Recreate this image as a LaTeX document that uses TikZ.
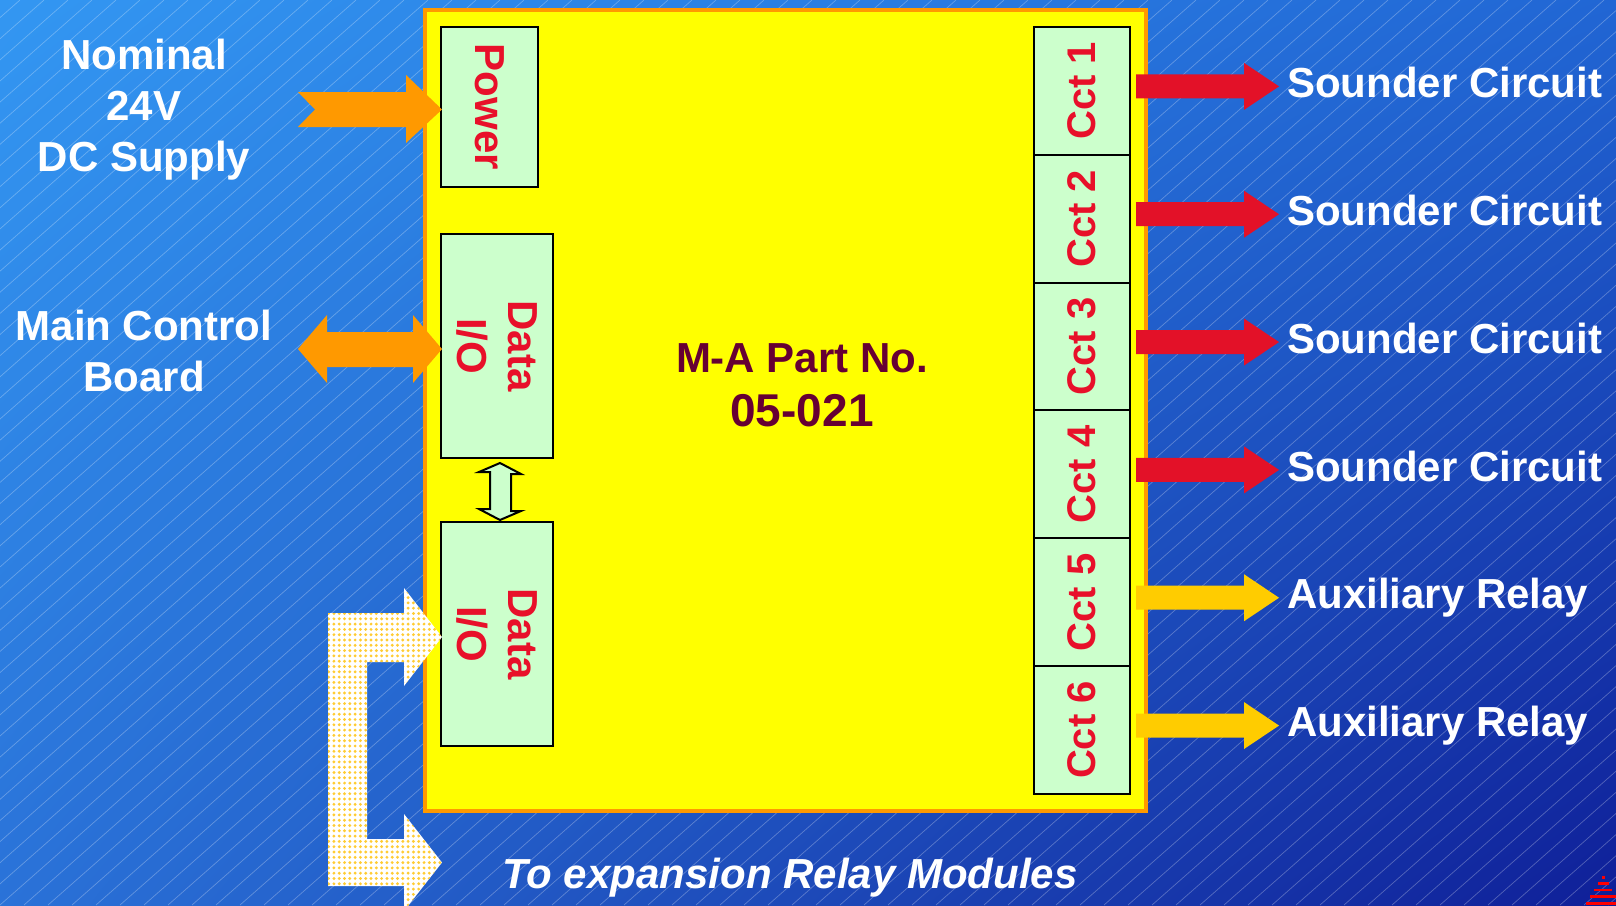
\documentclass[tikz,border=0pt]{standalone}
\usepackage{fontspec}
\setmainfont{Liberation Sans}
\usetikzlibrary{calc,patterns.meta,shadings}
\definecolor{bgA}{HTML}{3397F2}
\definecolor{bgB}{HTML}{2166D4}
\definecolor{bgC}{HTML}{2A72D8}
\definecolor{bgD}{HTML}{0F1F98}
\definecolor{boxyellow}{HTML}{FFFF00}
\definecolor{boxorange}{HTML}{FF9900}
\definecolor{boxgreen}{HTML}{CCFFCC}
\definecolor{txtred}{HTML}{E8102A}
\definecolor{arrred}{HTML}{E31128}
\definecolor{arryellow}{HTML}{FFCC00}
\definecolor{partmaroon}{HTML}{660033}
\definecolor{dotyellow}{HTML}{FFCC33}
\tikzset{
  pics/sarrow/.style={code={
    \fill (0,-12) -- (108,-12) -- (108,-23.5) -- (143,0) -- (108,23.5) -- (108,12) -- (0,12) -- cycle;}},
}
\begin{document}
\begin{tikzpicture}[x=1pt,y=-1pt,
  font=\bfseries\fontsize{42}{51}\selectfont,
  greenbox/.style={draw=black, line width=2pt, fill=boxgreen, inner sep=0pt},
  redtext/.style={text=txtred, inner sep=0pt, align=center},
  whitelabel/.style={text=white, inner sep=0pt, align=center},
  mainbox/.style={draw=boxorange, line width=4pt, fill=boxyellow, inner sep=0pt},
  orangearrow/.style={fill=boxorange},
  smallarrow/.style={draw=black, line width=2pt, fill=boxgreen, line join=miter},
  dotarrow/.style={fill=white, postaction={pattern={Dots[radius=1.6pt,distance=5.3pt]}, pattern color=dotyellow}}
]
\useasboundingbox (0,0) rectangle (1616,905);
% background
\shade[upper left=bgA, upper right=bgB, lower left=bgC, lower right=bgD] (0,0) rectangle (1616,905);
\begin{scope}
  \clip (0,0) rectangle (1616,905);
  \foreach \x in {-1104,-1080,...,1620}
    \draw[white, opacity=0.28, line width=0.7pt] (\x,905) -- ++(1028,-905);
\end{scope}

% main box
\node[mainbox, minimum width=721pt, minimum height=801pt] (main) at (785.5,410.5) {};

% power and data boxes
\node[greenbox, minimum width=97pt, minimum height=160pt] (pw) at (489.5,107) {};
\node[redtext, rotate=-90] (pwt) at (pw.center) {Power};
\node[greenbox, minimum width=112pt, minimum height=224pt] (d1) at (497,346) {};
\node[redtext, rotate=-90] (d1t) at (d1.center) {Data\\I/O};
\node[greenbox, minimum width=112pt, minimum height=224pt] (d2) at (497,634) {};
\node[redtext, rotate=-90] (d2t) at (d2.center) {Data\\I/O};

% small double arrow between data boxes
\draw[smallarrow] ([shift={(3,4)}]d1.south) -- ++(21,11) -- ++(-10,0) -- ++(0,37) -- ++(10,0)
  -- ([shift={(3,-1)}]d2.north) -- ++(-21,-11) -- ++(11,0) -- ++(0,-37) -- ++(-11,0) -- cycle;

% centre text
\node[text=partmaroon, inner sep=0pt] (pn) at (802,358) {M-A Part No.};
\node[text=partmaroon, inner sep=0pt, font=\bfseries\fontsize{46}{52}\selectfont] (num) at (802,411) {05-021};

% circuit boxes, arrows and labels
\foreach \i/\t/\c in {1/Sounder Circuit/arrred, 2/Sounder Circuit/arrred, 3/Sounder Circuit/arrred,
                       4/Sounder Circuit/arrred, 5/Auxiliary Relay/arryellow, 6/Auxiliary Relay/arryellow}{
  \node[greenbox, minimum width=96pt, minimum height=127.83pt] (c\i) at (1082,{27+127.83*(\i-0.5)}) {};
  \node[redtext, rotate=90, font=\bfseries\fontsize{40}{48}\selectfont] (ct\i) at (c\i.center) {Cct \i};
  \pic[color=\c] at ([shift={(5,-4.5)}]c\i.east) {sarrow};
  \node[whitelabel, anchor=base west] (l\i) at ([shift={(156,6.6)}]c\i.east) {\t};
}

% left labels
\node[whitelabel] (supply) at (144,110) {Nominal\\24V\\DC Supply};
\node[whitelabel] (mcb) at (144,351) {Main Control\\Board};

% orange arrows
\fill[orangearrow] (298,92) -- (406,92) -- (406,75) -- (442,109.5) -- (406,143) -- (406,127) -- (298,127) -- (315,109.5) -- cycle;
\fill[orangearrow] (298,349) -- (327,315) -- (327,332) -- (413,332) -- (413,315) -- (442,349) -- (413,383) -- (413,367) -- (327,367) -- (327,383) -- cycle;

% dotted bracket arrow to expansion modules
\path[dotarrow] (442,637) -- (404,588) -- (404,613) -- (328,613) -- (328,886) -- (404,886) -- (404,911)
  -- (442,862.5) -- (404,814) -- (404,839) -- (367,839) -- (367,662) -- (404,662) -- (404,686) -- cycle;

\node[whitelabel, anchor=base, font=\bfseries\itshape\fontsize{42}{51}\selectfont] (exp) at (790,888) {To expansion Relay Modules};

% logo
\fill[red] (1602,876) rectangle (1605,878.5);
\fill[red] (1598,882) rectangle (1609,884.5);
\fill[red] (1594,888.5) rectangle (1612,891);
\fill[red] (1590,895) rectangle (1616,898);
\fill[red] (1586,902) rectangle (1616,905);
\end{tikzpicture}
\end{document}
